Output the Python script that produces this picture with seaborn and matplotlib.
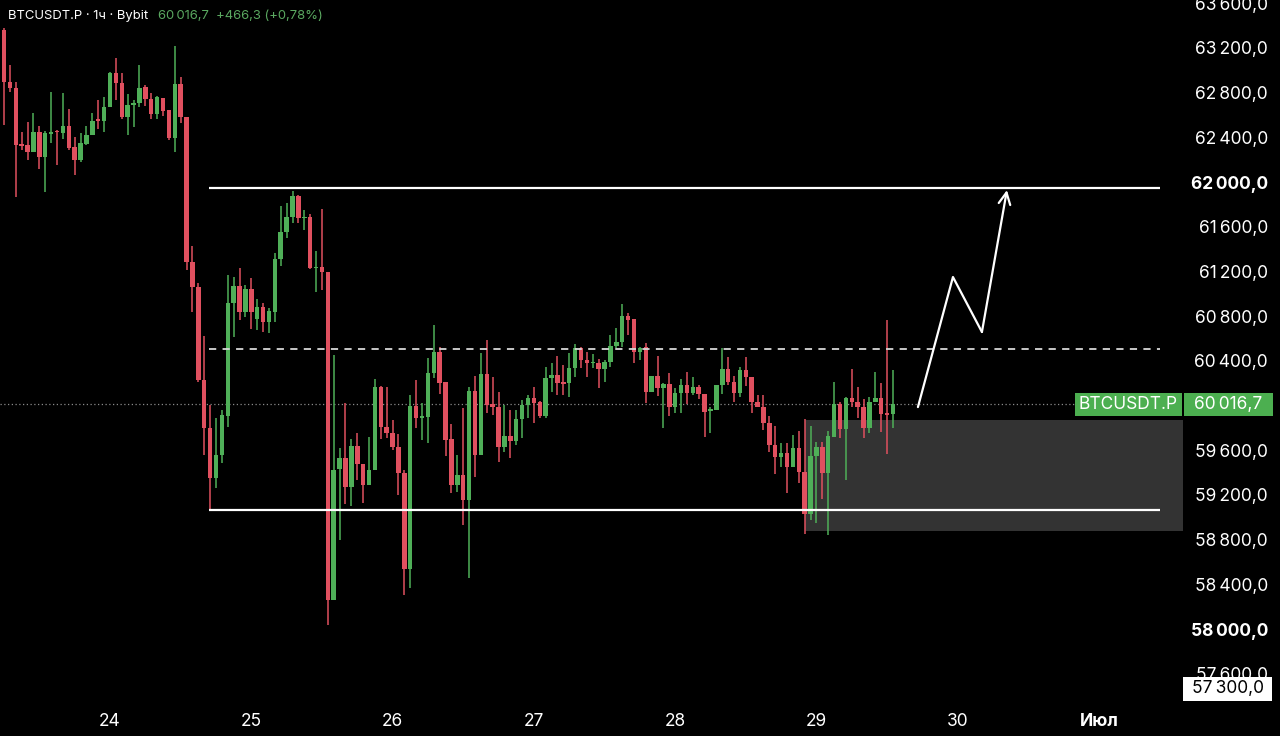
import numpy as np
import matplotlib
matplotlib.use("Agg")
import matplotlib.pyplot as plt
from matplotlib.patches import Rectangle
import seaborn as sns

# hourly candles, BTCUSDT.P 1h
opens = [63360, 62898, 62839, 62340, 62331, 62271, 62450, 62221, 62430, 62459,
         62441, 62501, 62316, 62197, 62340, 62421, 62561, 62549, 62674, 62973,
         62889, 62585, 62692, 62704, 62853, 62740, 62609, 62749, 62645, 62391,
         62877, 62579, 61287, 61063, 60228, 59796, 59349, 59557, 59906, 60915,
         61070, 60840, 61046, 60772, 60879, 60750, 60840, 61308, 61555, 61684,
         61875, 61675, 61690, 61228, 61242, 61192, 58260, 59429, 59528, 59274,
         59638, 59477, 59289, 59423, 60168, 59805, 59757, 59626, 59399, 58534,
         59996, 59886, 59900, 60294, 60482, 60213, 59698, 59289, 59378, 59154,
         60133, 59557, 60282, 60011, 59989, 59631, 59727, 59683, 59879, 60005,
         60065, 60029, 59909, 60244, 60273, 60208, 60199, 60333, 60512, 60407,
         60378, 60378, 60327, 60387, 60535, 60571, 60804, 60774, 60482, 60526,
         60124, 60264, 60154, 60193, 59984, 60109, 60184, 60109, 60163, 60103,
         59951, 59960, 60184, 60324, 60213, 60115, 60318, 60258, 60034, 59989,
         59846, 59647, 59542, 59572, 59447, 59617, 59408, 59029, 59548, 59631,
         59394, 59721, 60014, 59787, 60065, 60034, 59984, 59796, 60034, 60065,
         59930, 59924]
highs = [63380, 63047, 62898, 62450, 62540, 62615, 62501, 62457, 62808, 62466,
         62794, 62651, 62406, 62436, 62501, 62620, 62734, 62758, 62987, 63107,
         62973, 62788, 62734, 63047, 62868, 62799, 62770, 62749, 62645, 63217,
         62937, 62579, 61428, 61099, 60622, 60005, 59886, 59960, 61168, 61153,
         61228, 61076, 61139, 60951, 60920, 60870, 61367, 61785, 61810, 61922,
         61884, 61750, 61714, 61386, 61756, 61192, 60452, 59617, 60025, 59698,
         59757, 59477, 59716, 60235, 60175, 60163, 59871, 59745, 59423, 60094,
         60228, 60020, 60422, 60721, 60526, 60213, 59835, 59557, 59975, 60168,
         60264, 60467, 60586, 60258, 60124, 60005, 59960, 59960, 60050, 60094,
         60168, 60040, 60347, 60378, 60446, 60363, 60467, 60548, 60526, 60476,
         60458, 60416, 60407, 60631, 60691, 60906, 60825, 60774, 60526, 60562,
         60264, 60443, 60204, 60288, 60154, 60235, 60303, 60253, 60184, 60103,
         59984, 60184, 60512, 60437, 60264, 60342, 60437, 60258, 60094, 60094,
         59906, 59817, 59667, 59667, 59736, 59775, 59877, 59817, 59676, 59676,
         59775, 60213, 60034, 60074, 60324, 60168, 60056, 60074, 60303, 60204,
         60765, 60318]
lows = [62510, 62808, 61869, 62287, 62197, 62271, 62114, 61914, 62347, 62152,
        62382, 62287, 62063, 62182, 62331, 62421, 62472, 62450, 62669, 62734,
        62561, 62421, 62490, 62669, 62680, 62561, 62561, 62591, 62376, 62271,
        62526, 61213, 60840, 60213, 59557, 59065, 59259, 59483, 59810, 60616,
        60765, 60795, 60682, 60676, 60661, 60646, 60750, 61249, 61496, 61631,
        61631, 61571, 61219, 61019, 61034, 58036, 58260, 58797, 59119, 59101,
        59333, 59130, 59289, 59423, 59698, 59707, 59602, 59199, 58304, 58364,
        59796, 59691, 59667, 60244, 60103, 59548, 59220, 59229, 58931, 58454,
        59363, 59557, 59930, 59915, 59497, 59587, 59533, 59647, 59707, 59891,
        59841, 59885, 59885, 60124, 60094, 60094, 60079, 60258, 60333, 60258,
        60333, 60159, 60208, 60347, 60512, 60526, 60631, 60378, 60407, 60020,
        60124, 60085, 59796, 59906, 59936, 59936, 60014, 60094, 60056, 59716,
        59757, 59960, 60103, 60184, 60034, 60079, 60175, 59930, 59984, 59781,
        59584, 59387, 59452, 59220, 59447, 59304, 58850, 58975, 58946, 59161,
        58841, 59721, 59707, 59334, 59989, 59885, 59707, 59751, 60034, 59766,
        59566, 59796]
closes = [62898, 62839, 62331, 62323, 62271, 62450, 62221, 62436, 62445, 62445,
          62501, 62302, 62197, 62347, 62421, 62549, 62549, 62674, 62973, 62889,
          62579, 62689, 62704, 62839, 62740, 62609, 62758, 62638, 62391, 62877,
          62579, 61287, 61063, 60228, 59796, 59349, 59557, 59915, 60915, 61070,
          60840, 61046, 60840, 60879, 60750, 60849, 61308, 61555, 61690, 61875,
          61675, 61690, 61228, 61242, 61192, 58260, 59423, 59528, 59274, 59638,
          59477, 59289, 59423, 60168, 59805, 59757, 59626, 59399, 58534, 59996,
          59886, 59906, 60294, 60482, 60204, 59691, 59289, 59378, 59154, 60133,
          59557, 60282, 60005, 59989, 59631, 59727, 59683, 59879, 60005, 60065,
          60020, 59909, 60244, 60273, 60199, 60196, 60333, 60512, 60407, 60378,
          60392, 60327, 60392, 60535, 60571, 60804, 60765, 60482, 60517, 60124,
          60264, 60154, 60193, 59984, 60115, 60184, 60109, 60163, 60103, 59945,
          59966, 60184, 60324, 60213, 60115, 60318, 60253, 60034, 59984, 59846,
          59647, 59542, 59572, 59447, 59617, 59408, 59029, 59548, 59631, 59394,
          59727, 60014, 59787, 60065, 60034, 59984, 59796, 60034, 60065, 59924,
          59918, 60016.7]

first_hour = -18          # first candle is 18 hours before 24th 00:00
last_price = 60016.7

# levels drawn on the chart
range_top = 61947
range_bottom = 59065
mid_level = 60506
zone_low, zone_high = 58877, 59870

# projected path (day, price)
path_days = [29.718, 29.966, 30.171]
path_prices = [59986, 61150, 60658]
target_day, target_price = 30.348, 61928

day_ticks = [24, 25, 26, 27, 28, 29, 30, 31]
day_labels = ["24", "25", "26", "27", "28", "29", "30", "Июл"]
price_ticks = list(range(57600, 63601, 400))
hidden_ticks = [60000]    # covered by the last-price tag

GREEN = "#4faf58"
RED = "#e0505f"
W, H = 1280, 736

sns.set_theme(style="dark", rc={"axes.facecolor": "black", "figure.facecolor": "black",
                                "axes.edgecolor": "black", "axes.grid": False})
plt.rcParams["font.family"] = ["Inter", "DejaVu Sans"]

fig = plt.figure(figsize=(12.8, 7.36), dpi=100)
ax = fig.add_axes([0, 31 / H, 1182 / W, 705 / H])

o = np.array(opens, dtype=float)
h = np.array(highs, dtype=float)
l = np.array(lows, dtype=float)
c = np.array(closes, dtype=float)
t = 24 + (np.arange(len(o)) + first_hour) / 24
up = c >= o
cols = np.where(up, GREEN, RED)

# demand zone
ax.fill_between([28.919, 31.6], zone_low, zone_high, color="#333333", lw=0, zorder=1)

ax.vlines(t, l, h, colors=cols, lw=1.1, zorder=3)
body_h = np.maximum(np.abs(c - o), 14)
ax.bar(t, body_h, bottom=np.minimum(o, c), width=0.76 / 24, color=cols, lw=0, zorder=4)

# range levels
ax.hlines([range_top, range_bottom], 24.70, 31.431, colors="white", lw=1.6, zorder=5)
ax.hlines(mid_level, 24.70, 31.431, colors="#d8d8d8", lw=1.3, linestyles=(0, (4, 3.5)), zorder=5)
ax.axhline(last_price, xmin=0, xmax=1075 / 1182, color="#8a8a8a", lw=0.9,
           linestyle=(0, (1, 2)), zorder=2)

# projected move
sns.lineplot(x=path_days, y=path_prices, sort=False, color="white", lw=1.6, ax=ax, zorder=6)
ax.annotate("", xy=(target_day, target_price), xytext=(path_days[-1], path_prices[-1]),
            arrowprops=dict(arrowstyle="->,head_length=0.7,head_width=0.35",
                            color="white", lw=1.6, shrinkA=0, shrinkB=0), zorder=6)

ax.set_xlim(23.2215, 31.587)
ax.set_ylim(57320, 63629)


def fmt(v):
    if v in hidden_ticks:
        return ""
    return f"{v // 1000}\u2009{v % 1000:03d},0"


ax.yaxis.tick_right()
ax.set_yticks(price_ticks)
ax.set_yticklabels([fmt(v) for v in price_ticks])
ax.tick_params(axis="y", length=0, pad=62, labelsize=12.5, labelcolor="white")
for lab, v in zip(ax.get_yticklabels(), price_ticks):
    lab.set_horizontalalignment("right")
    if v in (62000, 58000):
        lab.set_fontweight("bold")

ax.set_xticks(day_ticks)
ax.set_xticklabels(day_labels)
ax.tick_params(axis="x", length=0, pad=6, labelsize=12.5, labelcolor="white")
ax.get_xticklabels()[-1].set_fontweight("bold")
ax.set_xlabel("")
ax.set_ylabel("")
for s in ax.spines.values():
    s.set_visible(False)

# header
fig.text(8 / W, 1 - 16 / H, "BTCUSDT.P · 1ч · Bybit", color="white",
         fontsize=9.4, va="center", ha="left")
fig.text(158 / W, 1 - 16 / H, "60\u2009016,7  +466,3 (+0,78%)", color="#5aa860",
         fontsize=9.4, va="center", ha="left")


def tag(x0, x1, y0, y1, text, fc, tc):
    fig.add_artist(Rectangle((x0 / W, 1 - y1 / H), (x1 - x0) / W, (y1 - y0) / H,
                             transform=fig.transFigure, fc=fc, ec="none", zorder=10))
    fig.text((x0 + x1) / 2 / W, 1 - (y0 + y1) / 2 / H, text, color=tc, fontsize=12.5,
             ha="center", va="center", zorder=11)


# price labels on the axis
tag(1075, 1182, 393, 416, "BTCUSDT.P", "#4caf50", "white")
tag(1184, 1273, 393, 416, "60\u2009016,7", "#4caf50", "white")
tag(1183, 1272, 677, 701, "57\u2009300,0", "white", "black")

fig.savefig("out.png", dpi=100, facecolor="black")
